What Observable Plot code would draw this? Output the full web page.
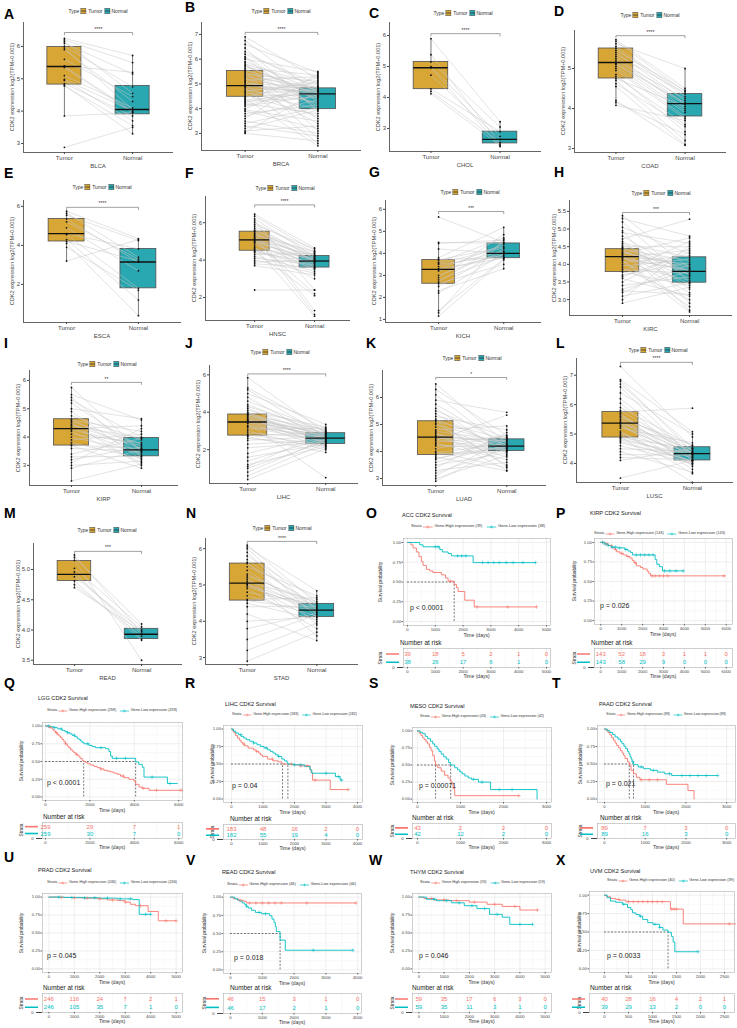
<!DOCTYPE html>
<html><head><meta charset="utf-8">
<script src="https://cdn.jsdelivr.net/npm/d3@7"></script>
<script src="https://cdn.jsdelivr.net/npm/@observablehq/plot@0.6"></script>
<style>
body{margin:0;background:#fff;}
#root{position:relative;width:737px;height:1028px;overflow:hidden;font-family:"Liberation Sans",Arial,Helvetica,sans-serif;background:#fff;}
.t{position:absolute;white-space:nowrap;line-height:1;}
</style></head><body><div id="root"></div>
<script>
// ---------------- DATA: paired boxplots (tumor / normal values, box stats [lo,q1,med,q3,hi]) ----------------
const BLCA_tumor = [6.25,6.2,6.15,6.1,6.0,5.95,5.9,5.6,5.4,5.38,5.35,5.1,4.98,4.95,4.85,4.8,4.78,3.85,2.88];
const BLCA_normal = [5.72,5.5,4.55,5.15,4.75,4.05,4.3,4.45,5.2,4.0,3.95,4.1,4.0,3.7,3.85,3.3,3.55,3.95,3.5];
const BLCA_box = {tumor:[3.85,4.82,5.38,5.98,6.25], normal:[3.3,3.9,4.05,4.78,5.72]};

const BRCA_tumor = [6.9,6.75,6.6,6.45,6.3,6.2,6.1,6.0,5.9,5.85,5.8,5.72,5.65,5.6,5.55,5.5,5.45,5.4,5.35,5.3,5.25,5.2,5.15,5.1,5.05,5.0,4.95,4.92,4.9,4.85,4.8,4.75,4.7,4.65,4.6,4.55,4.5,4.45,4.4,4.3,4.2,4.1,4.0,3.9,3.8,3.7,3.6,3.5,3.4,3.3,3.2,3.1,3.05,3.0,4.25,4.35,5.75,6.05,4.15,3.95];
const BRCA_normal = [5.2,4.6,5.45,3.9,4.8,5.0,4.3,5.5,4.7,3.1,4.95,4.55,5.35,4.1,4.75,2.8,4.62,5.1,4.4,4.85,3.6,4.68,5.3,4.2,4.5,4.9,3.4,4.65,4.82,2.6,4.72,4.25,5.05,4.0,4.78,3.7,4.58,5.25,2.5,4.45,3.8,4.52,5.15,3.2,4.15,4.35,5.4,3.0,4.05,2.9,3.95,3.3,4.7,2.7,4.88,4.64,4.48,3.98,4.76,3.5];
const BRCA_box = {tumor:[3.0,4.48,4.93,5.52,6.9], normal:[2.5,3.98,4.6,4.82,5.5]};

const CHOL_tumor = [5.9,5.38,5.15,5.0,4.96,4.72,4.28,4.2,4.12];
const CHOL_normal = [3.22,2.5,3.05,2.75,2.42,2.65,2.9,2.55,2.45];
const CHOL_box = {tumor:[4.1,4.27,4.96,5.15,5.9], normal:[2.4,2.52,2.65,2.9,3.22]};

const COAD_tumor = [5.72,5.68,5.62,5.55,5.5,5.45,5.4,5.35,5.3,5.25,5.2,5.15,5.12,5.1,5.05,5.0,4.95,4.85,4.8,4.75,4.7,4.62,4.55,4.2,4.15,4.08];
const COAD_normal = [4.5,4.42,5.0,4.36,4.3,4.45,4.2,4.38,4.12,4.0,4.25,4.1,3.95,4.15,3.9,3.8,3.75,3.42,3.6,4.05,3.2,3.55,3.1,3.08,3.35,3.7];
const COAD_box = {tumor:[4.08,4.75,5.15,5.5,5.72], normal:[3.08,3.8,4.12,4.36,5.0]};

const ESCA_tumor = [5.75,5.65,5.55,5.35,5.2,4.9,4.6,4.55,4.3,4.2,4.1,3.9,3.2];
const ESCA_normal = [4.35,3.4,4.25,3.15,3.3,2.7,3.82,1.8,1.2,3.2,0.4,1.7,4.3];
const ESCA_box = {tumor:[3.2,4.2,4.6,5.35,5.75], normal:[0.4,1.8,3.15,3.82,4.35]};

const HNSC_tumor = [6.45,6.35,6.2,6.1,6.0,5.9,5.8,5.7,5.6,5.55,5.52,5.45,5.4,5.3,5.25,5.2,5.15,5.1,5.08,5.05,5.0,4.95,4.9,4.8,4.7,4.6,4.55,4.5,4.45,4.4,4.3,4.2,4.1,4.0,3.9,3.8,3.7,2.4,5.35,4.65];
const HNSC_normal = [4.65,4.5,4.2,2.4,4.4,4.6,4.1,3.9,4.3,1.3,4.22,4.0,3.95,1.1,4.15,3.85,3.6,4.25,3.7,2.2,3.95,4.05,3.5,3.8,1.0,4.1,3.65,3.55,2.1,3.9,4.35,3.4,3.75,3.3,4.0,3.6,3.2,2.4,4.45,3.0];
const HNSC_box = {tumor:[3.7,4.5,5.08,5.52,6.45], normal:[3.0,3.6,3.95,4.22,4.65]};

const KICH_tumor = [5.65,4.5,4.45,4.2,3.8,3.72,3.7,3.6,3.5,3.4,3.3,3.27,3.2,3.0,2.9,2.8,2.7,2.62,2.5,2.3,2.2,1.4,1.3,1.15,3.55];
const KICH_normal = [4.5,4.45,4.6,4.0,5.18,3.8,4.3,4.7,3.9,4.1,3.78,4.4,3.95,4.05,4.85,3.85,4.5,3.5,4.2,3.3,4.0,3.75,4.65,3.7,4.25];
const KICH_box = {tumor:[1.15,2.62,3.27,3.7,4.5], normal:[3.3,3.78,4.0,4.45,5.18]};

const KIRC_tumor = [5.38,5.3,5.2,5.05,4.95,4.9,4.8,4.72,4.65,4.6,4.55,4.5,4.45,4.43,4.4,4.35,4.3,4.27,4.25,4.22,4.2,4.15,4.1,4.05,4.0,3.95,3.9,3.85,3.8,3.78,3.7,3.6,3.5,3.4,3.3,3.2,3.1,3.0,2.9,4.12,4.33,3.65,4.48,3.25,4.18];
const KIRC_normal = [3.9,4.8,3.5,4.3,2.9,4.6,3.7,5.28,3.3,4.2,3.8,4.5,2.7,4.1,3.6,3.95,4.75,3.45,4.0,3.2,4.4,3.85,2.65,4.25,3.55,4.15,3.0,3.75,4.65,3.4,4.05,3.1,4.45,3.65,3.8,4.0,3.48,4.55,3.35,2.8,3.9,4.35,3.7,3.15,3.82];
const KIRC_box = {tumor:[2.9,3.78,4.22,4.43,5.38], normal:[2.65,3.48,3.8,4.2,4.8]};

const KIRP_tumor = [5.75,5.5,5.4,5.3,5.2,5.0,4.9,4.75,4.63,4.6,4.5,4.45,4.4,4.35,4.3,4.25,4.2,4.1,4.0,3.9,3.8,3.72,3.7,3.6,3.4,3.3,3.2,3.1,3.0,2.9,2.45,4.55];
const KIRP_normal = [3.5,4.6,3.3,4.0,3.55,4.65,3.2,3.9,3.4,4.2,3.0,3.6,3.97,3.35,4.4,3.7,3.1,3.8,3.45,4.1,3.25,3.6,2.9,3.5,3.95,3.32,3.65,4.3,3.15,3.55,3.05,3.75];
const KIRP_box = {tumor:[2.45,3.7,4.3,4.63,5.75], normal:[2.9,3.32,3.55,3.97,4.65]};

const LIHC_tumor = [5.85,5.3,5.2,5.0,4.8,4.6,4.4,4.2,4.1,4.0,3.95,3.9,3.88,3.85,3.8,3.7,3.65,3.6,3.55,3.5,3.48,3.45,3.4,3.3,3.2,3.1,3.0,2.9,2.8,2.75,2.7,2.5,2.3,2.1,1.8,1.6,1.4,1.2,1.1,1.0,0.8,0.6,0.4,3.75,3.25,2.6,4.3,3.58];
const LIHC_normal = [2.9,3.1,2.7,3.35,2.5,3.0,2.8,2.62,3.2,2.3,2.88,2.4,2.7,3.05,2.55,2.2,2.85,2.6,2.95,2.35,2.75,2.1,0.5,2.65,2.45,3.15,2.0,2.58,2.25,2.9,1.85,2.7,2.5,2.4,2.8,2.3,2.6,2.15,2.95,2.45,2.55,2.35,2.05,2.78,2.62,2.2,3.0,2.68];
const LIHC_box = {tumor:[0.4,2.75,3.48,3.88,5.85], normal:[1.85,2.3,2.62,2.88,3.35]};

const LUAD_tumor = [6.5,6.3,6.1,5.9,5.75,5.6,5.5,5.4,5.3,5.2,5.12,5.05,5.0,4.9,4.8,4.7,4.65,4.6,4.55,4.53,4.5,4.45,4.4,4.3,4.2,4.1,4.0,3.95,3.9,3.87,3.8,3.7,3.6,3.5,3.4,3.3,3.2,3.1,3.0,2.9,4.25,4.75,5.15,3.75,4.35];
const LUAD_normal = [4.3,4.6,4.1,5.45,4.2,3.9,4.5,4.0,4.8,4.15,4.45,3.5,4.25,4.05,4.95,3.3,4.2,4.35,3.8,4.1,4.4,4.02,5.35,3.7,4.2,4.6,3.4,4.3,4.0,4.15,3.28,4.5,4.25,3.95,4.7,3.6,4.1,4.45,3.85,4.22,4.05,4.38,3.45,4.18,4.55];
const LUAD_box = {tumor:[2.9,3.87,4.53,5.12,6.5], normal:[3.28,4.02,4.2,4.45,4.95]};

const LUSC_tumor = [7.3,6.85,6.8,6.7,6.6,6.4,6.2,6.05,5.9,5.8,5.75,5.7,5.6,5.5,5.45,5.4,5.37,5.35,5.3,5.2,5.1,5.0,4.95,4.9,4.88,4.85,4.8,4.7,4.6,4.5,4.4,4.3,4.2,4.1,3.5,5.55,5.25,5.65,4.75,5.05];
const LUSC_normal = [4.9,5.08,4.4,4.55,4.2,5.0,4.3,4.1,4.6,4.35,5.88,3.9,4.5,4.25,4.0,4.45,4.33,3.8,4.15,4.7,3.65,4.38,4.05,3.35,4.5,4.2,4.3,4.1,4.0,4.4,3.7,4.28,4.12,4.5,4.1,4.62,4.22,4.36,4.08,3.95];
const LUSC_box = {tumor:[4.1,4.88,5.37,5.75,6.85], normal:[3.65,4.1,4.33,4.55,5.08]};

const READ_tumor = [5.24,5.2,5.15,5.02,4.96,4.92,4.88,4.81,4.75,4.7];
const READ_normal = [3.95,4.1,3.5,4.05,3.85,3.93,4.0,3.83,3.9,3.98];
const READ_box = {tumor:[4.7,4.81,4.92,5.14,5.25], normal:[3.82,3.85,3.93,4.02,4.1]};

const STAD_tumor = [6.1,6.05,6.0,5.9,5.8,5.7,5.62,5.59,5.5,5.4,5.3,5.2,5.15,5.1,5.05,5.02,5.0,4.95,4.9,4.8,4.7,4.6,4.57,4.5,4.4,4.2,4.0,3.8,3.5,3.2,2.9,5.25];
const STAD_normal = [4.5,4.84,4.3,4.1,4.6,4.35,3.9,4.45,4.7,4.2,4.4,3.6,4.28,4.55,4.0,4.38,4.25,4.33,3.8,4.48,4.15,4.65,4.3,4.05,4.42,3.47,4.12,4.22,4.18,3.95,3.7,4.5];
const STAD_box = {tumor:[2.9,4.57,5.05,5.59,6.1], normal:[3.47,4.12,4.31,4.48,4.84]};

// ---------------- DATA: Kaplan-Meier curves [time, survival] ----------------
const ACC_high = [[0,1],[120,0.97],[200,0.93],[320,0.88],[410,0.82],[500,0.76],[560,0.71],[680,0.66],[800,0.64],[920,0.62],[1220,0.59],[1370,0.55],[1460,0.51],[1680,0.47],[1760,0.43],[1820,0.38],[2060,0.27],[2400,0.185],[4640,0.185]];
const ACC_low = [[0,1],[440,0.97],[560,0.945],[1160,0.91],[1250,0.88],[1460,0.86],[1580,0.83],[2360,0.745],[4600,0.745]];
const ACC_cens_high = [1550,2500,3600,4640];
const ACC_cens_low = [1000,1100,1800,1950,2100,2700,2900,3100,3300,3550,3800,4150,4600];
const ACC_risk_high = [39,18,5,2,1,0], ACC_risk_low = [38,26,17,6,1,0];

const KIRP_high = [[0,1],[200,0.98],[360,0.96],[520,0.93],[680,0.91],[760,0.88],[910,0.86],[1070,0.84],[1230,0.82],[1390,0.8],[1500,0.77],[1590,0.74],[1700,0.7],[1900,0.68],[2020,0.66],[2220,0.63],[2300,0.6],[2380,0.572],[5950,0.572]];
const KIRP_low = [[0,1],[200,0.98],[350,0.96],[500,0.94],[800,0.93],[1150,0.91],[1300,0.89],[1420,0.87],[1520,0.84],[2600,0.78],[2680,0.72],[2800,0.69],[2950,0.636],[3950,0.636]];
const KIRP_cens_high = [100,300,500,700,1000,1300,1650,2450,2600,2800,3000,3200,5900];
const KIRP_cens_low = [80,200,350,550,700,900,1200,1700,1900,2100,2300,2500,3050,3300,3600,3950];
const KIRP_risk_high = [143,52,18,3,1,1,0], KIRP_risk_low = [143,58,29,9,0,0,0];

const LGG_high = [[0,1],[120,0.985],[225,0.977],[300,0.955],[375,0.93],[450,0.905],[526,0.883],[600,0.86],[677,0.836],[750,0.81],[827,0.78],[900,0.75],[977,0.718],[1050,0.695],[1128,0.67],[1200,0.645],[1278,0.624],[1370,0.6],[1459,0.577],[1550,0.545],[1654,0.516],[1720,0.5],[1805,0.484],[1900,0.468],[2030,0.45],[2180,0.43],[2331,0.413],[2480,0.395],[2632,0.376],[2780,0.364],[2932,0.352],[3080,0.335],[3233,0.319],[3380,0.295],[3534,0.272],[3759,0.249],[3985,0.225],[4060,0.178],[4210,0.14],[4361,0.122],[4662,0.094],[6165,0.094]];
const LGG_low = [[0,1],[200,0.99],[375,0.977],[550,0.96],[750,0.94],[870,0.925],[977,0.906],[1100,0.89],[1200,0.87],[1320,0.85],[1430,0.826],[1500,0.81],[1580,0.79],[1650,0.77],[1730,0.75],[1955,0.728],[2100,0.71],[2255,0.695],[2706,0.68],[2857,0.64],[2932,0.577],[3008,0.545],[4060,0.493],[4200,0.46],[4360,0.42],[4436,0.28],[5489,0.19],[5940,0.19]];
const LGG_cens_high = [200,500,900,1400,2500,3500,4400,5000,6100];
const LGG_cens_low = [150,400,700,1000,1300,1900,2500,3200,3600,4800,5600];
const LGG_risk_high = [259,29,7,1], LGG_risk_low = [259,30,7,0];

const LIHC_high = [[0,1],[40,0.97],[79,0.943],[130,0.905],[191,0.871],[250,0.84],[303,0.81],[360,0.785],[416,0.76],[528,0.727],[697,0.703],[780,0.68],[865,0.656],[920,0.63],[978,0.608],[1146,0.57],[1315,0.545],[1483,0.531],[1596,0.512],[1620,0.498],[1933,0.488],[2157,0.474],[2494,0.42],[2528,0.378],[2573,0.27],[3135,0.135],[3730,0.135]];
const LIHC_low = [[0,1],[60,0.97],[135,0.943],[220,0.92],[303,0.895],[390,0.87],[472,0.847],[580,0.825],[697,0.8],[810,0.775],[921,0.751],[1030,0.73],[1146,0.703],[1230,0.68],[1315,0.656],[1400,0.63],[1483,0.608],[1596,0.57],[1680,0.545],[1764,0.522],[1790,0.498],[1989,0.488],[2326,0.464],[2494,0.416],[2550,0.368],[3300,0.32],[3450,0.27],[3500,0.27]];
const LIHC_cens_high = [400,800,1300,1900,2200,2400,2650,3700];
const LIHC_cens_low = [300,700,1100,1500,2000,2200,3000,3400,3500];
const LIHC_risk_high = [183,48,16,2,0], LIHC_risk_low = [182,55,19,4,0];

const MESO_high = [[0,1],[40,0.967],[79,0.935],[120,0.9],[157,0.87],[200,0.84],[236,0.81],[276,0.76],[315,0.71],[354,0.637],[394,0.56],[420,0.5],[472,0.46],[551,0.41],[630,0.35],[709,0.31],[760,0.27],[787,0.24],[827,0.154],[866,0.05],[2360,0.05]];
const MESO_low = [[0,1],[60,0.98],[118,0.96],[180,0.92],[236,0.886],[300,0.85],[354,0.81],[400,0.775],[457,0.736],[500,0.7],[551,0.66],[610,0.62],[669,0.587],[724,0.537],[772,0.5],[866,0.46],[930,0.43],[984,0.398],[1040,0.37],[1102,0.338],[1180,0.31],[1260,0.289],[1417,0.249],[1700,0.14],[2780,0.0]];
const MESO_cens_high = [2360];
const MESO_cens_low = [1300,1500,1900,2200];
const MESO_risk_high = [43,2,2,0], MESO_risk_low = [42,12,2,0];

const PAAD_high = [[0,1],[45,0.975],[87,0.95],[130,0.915],[174,0.877],[220,0.84],[261,0.8],[300,0.765],[348,0.73],[390,0.69],[435,0.655],[470,0.62],[504,0.58],[565,0.53],[609,0.483],[652,0.41],[713,0.36],[783,0.31],[870,0.275],[1520,0.21],[2050,0.12],[2200,0.0]];
const PAAD_low = [[0,1],[65,0.975],[130,0.95],[200,0.92],[261,0.887],[330,0.855],[391,0.82],[430,0.79],[478,0.754],[520,0.72],[565,0.68],[600,0.645],[626,0.606],[655,0.57],[678,0.53],[713,0.49],[826,0.458],[957,0.433],[1130,0.41],[1304,0.384],[1478,0.36],[1652,0.335],[2780,0.335]];
const PAAD_cens_high = [900,1100,1300];
const PAAD_cens_low = [700,900,1200,1600,1900,2100,2300,2500,2780];
const PAAD_risk_high = [89,7,3,0], PAAD_risk_low = [89,16,3,0];

const PRAD_high = [[0,1],[400,0.995],[900,0.99],[1400,0.985],[1900,0.975],[2300,0.96],[2700,0.95],[3000,0.93],[3200,0.9],[3400,0.88],[3900,0.8],[4300,0.67],[5000,0.67]];
const PRAD_low = [[0,1],[600,0.995],[1300,0.99],[2000,0.985],[2700,0.975],[3300,0.965],[3550,0.76],[4000,0.76]];
const PRAD_cens_high = [500,1000,1500,2000,2500,3000,3600,4600,5000];
const PRAD_cens_low = [400,900,1400,1800,2300,2800,3200,3800,4000];
const PRAD_risk_high = [246,116,24,7,2,1], PRAD_risk_low = [246,105,35,7,1,0];

const READ_high = [[0,1],[84,0.977],[240,0.958],[397,0.944],[501,0.92],[3950,0.92]];
const READ_low = [[0,1],[136,0.977],[220,0.96],[292,0.944],[370,0.92],[449,0.898],[500,0.875],[553,0.851],[658,0.819],[783,0.79],[971,0.772],[1232,0.744],[1305,0.698],[1368,0.651],[1410,0.595],[1441,0.526],[1560,0.409],[1723,0.27],[3850,0.27]];
const READ_cens_high = [300,600,800,1000,1200,1400,1600,2400,3950];
const READ_cens_low = [500,900,1100,2600,3850];
const READ_risk_high = [46,15,3,1,0], READ_risk_low = [46,17,2,1,0];

const THYM_high = [[0,1],[200,0.98],[600,0.96],[1200,0.95],[2000,0.93],[2700,0.9],[3300,0.87],[4000,0.82],[4700,0.82]];
const THYM_low = [[0,1],[300,0.97],[700,0.95],[1300,0.92],[1800,0.88],[2300,0.84],[2800,0.76],[3300,0.72],[3600,0.62],[4500,0.62]];
const THYM_cens_high = [500,1000,1500,2200,3000,3800,4700];
const THYM_cens_low = [600,1100,1600,2100,2600,3100,4000,4500];
const THYM_risk_high = [59,35,17,6,3,0], THYM_risk_low = [59,35,11,3,1,0];

const UVM_high = [[0,1],[42,0.978],[127,0.956],[232,0.943],[303,0.934],[444,0.912],[1373,0.811],[1641,0.61],[2730,0.61]];
const UVM_low = [[0,1],[56,0.965],[127,0.92],[232,0.904],[373,0.877],[479,0.833],[549,0.803],[585,0.76],[655,0.737],[725,0.715],[796,0.67],[901,0.627],[1007,0.605],[1148,0.561],[1218,0.526],[1324,0.496],[1394,0.44],[1430,0.364],[1465,0.232],[1950,0.232]];
const UVM_cens_high = [300,500,600,700,800,900,1000,1100,1200,1400,1450,1500,2600];
const UVM_cens_low = [400,750,1050,1150,1950];
const UVM_risk_high = [40,28,16,4,2,1], UVM_risk_low = [39,29,13,2,0,0];

// ---------------- STYLE / LAYOUT ----------------
const FONT = '"Liberation Sans", Arial, Helvetica, sans-serif';
const GOLD = "#D8A635", TEAL = "#2AA8B1", RED = "#F8766D", CYAN = "#00BFC4";
const root = document.getElementById("root");

function txt(s, x, y, o = {}) {
  const d = document.createElement("div");
  d.className = "t";
  d.textContent = s;
  d.style.fontSize = (o.size || 6) + "px";
  if (o.weight) d.style.fontWeight = o.weight;
  d.style.color = o.color || "#333";
  const tx = o.anchor === "middle" ? "-50%" : o.anchor === "end" ? "-100%" : "0";
  d.style.left = x + "px"; d.style.top = y + "px";
  d.style.transform = `translate(${tx},-50%)` + (o.rotate ? ` rotate(${o.rotate}deg)` : "");
  root.appendChild(d);
  return d;
}
function html(h, x, y, anchor, fitW) {
  const d = document.createElement("div");
  d.style.cssText = `position:absolute;left:${x}px;top:${y}px;display:flex;align-items:center;white-space:nowrap;line-height:1;color:#333;`;
  d.innerHTML = h;
  root.appendChild(d);
  let k = 1;
  if (fitW) { const w = d.getBoundingClientRect().width; if (w > 0) k = fitW / w; }
  d.style.transformOrigin = anchor === "middle" ? "50% 50%" : "0 50%";
  d.style.transform = `translate(${anchor === "middle" ? "-50%" : "0"},-50%)` + (k !== 1 ? ` scale(${k})` : "");
  return d;
}
function put(el, x, y) {
  el.style.position = "absolute"; el.style.left = x + "px"; el.style.top = y + "px";
  root.appendChild(el);
}
function letter(s, x, y) { txt(s, x, y, {size: 14, weight: "bold", color: "#000"}); }

function swatch(c) {
  return `<svg width="6" height="6" style="display:block;margin:0 1.5px"><rect x="0.3" y="0.3" width="5.4" height="5.4" fill="${c}" stroke="#555" stroke-width="0.6"/><line x1="0.3" x2="5.7" y1="3" y2="3" stroke="#222" stroke-width="0.7"/></svg>`;
}
function lineSw(c) {
  return `<svg width="11" height="5" style="display:block;margin:0 1.5px"><line x1="0" x2="11" y1="2.5" y2="2.5" stroke="${c}" stroke-width="0.8"/><line x1="5.5" x2="5.5" y1="0.8" y2="4.2" stroke="${c}" stroke-width="0.6"/><line x1="3.8" x2="7.2" y1="2.5" y2="2.5" stroke="${c}" stroke-width="0.6"/></svg>`;
}

const sty = {fontFamily: FONT, fontSize: "6px", color: "#444", background: "transparent", overflow: "visible"};

// ---------------- paired boxplot panel ----------------
function boxPanel(g, tumor, normal, box, name, sig) {
  const ml = 16, mr = 3, mt = 10, mb = 12;
  const xdom = g.xdom || [0.4, 2.6];
  const pairs = tumor.map((t, i) => ({t, n: normal[i]})).filter(d => d.n !== undefined);
  const pts = [...tumor.map(v => ({x: 1, y: v})), ...normal.map(v => ({x: 2, y: v}))];
  const st = [
    {x: 1, lo: box.tumor[0], q1: box.tumor[1], med: box.tumor[2], q3: box.tumor[3], hi: box.tumor[4]},
    {x: 2, lo: box.normal[0], q1: box.normal[1], med: box.normal[2], q3: box.normal[3], hi: box.normal[4]}
  ];
  const span = g.ydom[1] - g.ydom[0];
  const tip = span * 0.018;
  const br = [{x: 1, y: g.sigY - tip}, {x: 1, y: g.sigY}, {x: 2, y: g.sigY}, {x: 2, y: g.sigY - tip}];
  const fmt = g.fmt ? d3.format(g.fmt) : d3.format("d");
  const svg = Plot.plot({
    width: g.R - g.L + ml + mr, height: g.B - g.T + mt + mb,
    marginLeft: ml, marginRight: mr, marginTop: mt, marginBottom: mb,
    style: sty,
    x: {domain: xdom}, y: {domain: g.ydom},
    marks: [
      Plot.ruleX(st, {x: "x", y1: "lo", y2: "hi", stroke: "#222", strokeWidth: 0.6}),
      Plot.rect([st[0]], {x1: d => d.x - 0.25, x2: d => d.x + 0.25, y1: "q1", y2: "q3", fill: GOLD, stroke: "#505050", strokeWidth: 0.8}),
      Plot.rect([st[1]], {x1: d => d.x - 0.25, x2: d => d.x + 0.25, y1: "q1", y2: "q3", fill: TEAL, stroke: "#505050", strokeWidth: 0.8}),
      Plot.link(pairs, {x1: () => 1, x2: () => 2, y1: "t", y2: "n", stroke: "#c8c8c8", strokeWidth: 0.6, strokeOpacity: 0.85}),
      Plot.ruleY(st, {x1: d => d.x - 0.25, x2: d => d.x + 0.25, y: "med", stroke: "#111", strokeWidth: 1.3}),
      Plot.dot(pts, {x: "x", y: "y", r: 0.9, fill: "#111", stroke: null}),
      Plot.line(br, {x: "x", y: "y", stroke: "#444", strokeWidth: 0.5}),
      Plot.text([sig], {x: () => 1.5, y: () => g.sigY, text: d => d, dy: -3.5, fontSize: 5, fill: "#333"}),
      Plot.ruleX([xdom[0]], {stroke: "#222", strokeWidth: 0.7}),
      Plot.ruleY([g.ydom[0]], {stroke: "#222", strokeWidth: 0.7}),
      Plot.axisY(g.yticks, {tickSize: 2, tickPadding: 1.5, tickFormat: fmt, label: null, fontSize: 6}),
      Plot.axisX([1, 2], {tickSize: 2, tickPadding: 1.5, tickFormat: d => d === 1 ? "Tumor" : "Normal", label: null, fontSize: 6})
    ]
  });
  put(svg, g.L - ml, g.T - mt);
  txt(name, (g.L + g.R) / 2, g.B + 13.5, {size: 6, anchor: "middle", color: "#444"});
  txt("CDK2 expression log2(TPM+0.001)", g.L - (g.fmt ? 14.5 : 10.5), (g.T + g.B) / 2, {size: 5.6, anchor: "middle", rotate: -90, color: "#444"});
  html(`<span style="font-size:5px">Type</span>${swatch(GOLD)}<span style="font-size:5px">Tumor</span>${swatch(TEAL)}<span style="font-size:5px">Normal</span>`, g.lx, g.ly, "middle");
}

// ---------------- survival panel ----------------
function survAt(curve, t) { let s = 1; for (const [ti, si] of curve) { if (ti <= t) s = si; else break; } return s; }

function survPanel(g, d) {
  const ml = 20, mr = 3, mt = 3, mb = 8;
  const xt = d.ticks;
  const minorX = xt.slice(1).map((v, i) => (v + xt[i]) / 2);
  const yt = [0, 0.25, 0.5, 0.75, 1], minorY = [0.125, 0.375, 0.625, 0.875];
  const cH = d.censH.map(t => ({t, s: survAt(d.high, t)}));
  const cL = d.censL.map(t => ({t, s: survAt(d.low, t)}));
  const medMax = d.medians.length ? d3.max(d.medians) : 0;
  const xf = d3.format("d");
  const base = {width: g.fw + ml + mr, marginLeft: ml, marginRight: mr, marginTop: mt, marginBottom: mb, style: {...sty, fontSize: "4.2px"}, x: {domain: g.xdom}};
  const gridMarks = [
    Plot.gridX(minorX, {stroke: "#f2f2f2", strokeOpacity: 1, strokeWidth: 0.5}),
    Plot.gridX(xt, {stroke: "#e4e4e4", strokeOpacity: 1, strokeWidth: 0.6})
  ];
  const medMarks = d.medians.length ? [
    Plot.ruleY([0.5], {x1: () => 0, x2: () => medMax, stroke: "#222", strokeWidth: 0.6, strokeDasharray: "2,1.5"}),
    Plot.ruleX(d.medians, {y1: () => 0, y2: () => 0.5, stroke: "#222", strokeWidth: 0.6, strokeDasharray: "2,1.5"})
  ] : [];
  const main = Plot.plot({
    ...base, height: g.fh + mt + mb, y: {domain: [-0.05, 1.05]},
    marks: [
      ...gridMarks,
      Plot.gridY(minorY, {stroke: "#f2f2f2", strokeOpacity: 1, strokeWidth: 0.5}),
      Plot.gridY(yt, {stroke: "#e4e4e4", strokeOpacity: 1, strokeWidth: 0.6}),
      Plot.frame({stroke: "#b0b0b0", strokeWidth: 0.6}),
      ...medMarks,
      Plot.line(d.high, {x: p => p[0], y: p => p[1], curve: "step-after", stroke: RED, strokeWidth: 0.9}),
      Plot.line(d.low, {x: p => p[0], y: p => p[1], curve: "step-after", stroke: CYAN, strokeWidth: 0.9}),
      Plot.dot(cH, {x: "t", y: "s", symbol: "plus", r: 1.3, stroke: RED, strokeWidth: 0.5}),
      Plot.dot(cL, {x: "t", y: "s", symbol: "plus", r: 1.3, stroke: CYAN, strokeWidth: 0.5}),
      Plot.axisX(xt, {tickSize: 1.5, tickPadding: 1, label: null, fontSize: 4.2, stroke: "#666", tickFormat: xf}),
      Plot.axisY(yt, {tickSize: 1.5, tickPadding: 1, label: null, fontSize: 4.2, tickFormat: d3.format(".2f"), stroke: "#666"})
    ]
  });
  put(main, g.fx - ml, g.fy - mt);
  const tab = Plot.plot({
    ...base, height: g.th + mt + mb, y: {domain: [0, 1]},
    marks: [
      ...gridMarks,
      Plot.frame({stroke: "#b0b0b0", strokeWidth: 0.6}),
      Plot.text(d.riskH, {x: (v, i) => xt[i], y: () => 0.71, text: v => String(v), fill: RED, fontSize: 6}),
      Plot.text(d.riskL, {x: (v, i) => xt[i], y: () => 0.28, text: v => String(v), fill: CYAN, fontSize: 6}),
      Plot.axisX(xt, {tickSize: 1.5, tickPadding: 1, label: null, fontSize: 4.2, stroke: "#666", tickFormat: xf})
    ]
  });
  put(tab, g.fx - ml, g.ty - mt);
  const cx = g.fx + g.fw / 2;
  txt(d.title, g.tx, g.tty, {size: 5.6, color: "#222"});
  html(`<span style="font-size:4.4px">Strata</span>${lineSw(RED)}<span style="font-size:4.4px">Gene-High expression (${d.nH})</span><span style="width:3px"></span>${lineSw(CYAN)}<span style="font-size:4.4px">Gene-Low expression (${d.nL})</span>`, g.lx, g.ly, "start", g.lw);
  txt("Survival probability", g.ylabX, g.fy + g.fh / 2, {size: 4.8, anchor: "middle", rotate: -90, color: "#333"});
  txt("Time (days)", cx, g.fy + g.fh + 9.5, {size: 5, anchor: "middle", color: "#333"});
  txt(d.p, g.px, g.py, {size: 7, color: "#222"});
  txt("Number at risk", g.nx, g.ty - 5, {size: 6.4, color: "#222"});
  txt("Time (days)", cx, g.ty + g.th + 8.5, {size: 5, anchor: "middle", color: "#333"});
  txt("Strata", g.ylabX, g.ty + g.th / 2, {size: 4.8, anchor: "middle", rotate: -90, color: "#333"});
  html(`<svg width="13" height="${g.th}" style="display:block"><line x1="0" x2="13" y1="${g.th * 0.29}" y2="${g.th * 0.29}" stroke="${RED}" stroke-width="1.6"/><line x1="0" x2="13" y1="${g.th * 0.72}" y2="${g.th * 0.72}" stroke="${CYAN}" stroke-width="1.6"/></svg>`, g.fx - 17, g.ty + g.th / 2);
}

// ---------------- build boxplot panels ----------------
boxPanel({L: 23, B: 152, R: 173, T: 22, ydom: [2.72, 6.74], yticks: [3, 4, 5, 6], sigY: 6.43, lx: 98, ly: 11}, BLCA_tumor, BLCA_normal, BLCA_box, "BLCA", "****");
boxPanel({L: 201, B: 150, R: 361, T: 22, ydom: [2.31, 7.48], yticks: [3, 4, 5, 6, 7], sigY: 7.08, lx: 281, ly: 11}, BRCA_tumor, BRCA_normal, BRCA_box, "BRCA", "****");
boxPanel({L: 389, B: 151, R: 541, T: 22, ydom: [2.26, 6.42], yticks: [3, 4, 5, 6], sigY: 6.06, lx: 463, ly: 13}, CHOL_tumor, CHOL_normal, CHOL_box, "CHOL", "****");
boxPanel({L: 574, B: 152, R: 726, T: 30, ydom: [2.9, 5.95], yticks: [3, 4, 5], sigY: 5.82, lx: 650, ly: 15}, COAD_tumor, COAD_normal, COAD_box, "COAD", "****");
boxPanel({L: 23, B: 322, R: 181, T: 200, ydom: [0.05, 6.3], yticks: [2, 4, 6], sigY: 5.95, lx: 102, ly: 187}, ESCA_tumor, ESCA_normal, ESCA_box, "ESCA", "****");
boxPanel({L: 205, B: 320, R: 350, T: 196, ydom: [0.77, 7.4], yticks: [2, 4, 6], xdom: [0.18, 2.6], sigY: 6.95, lx: 285, ly: 188}, HNSC_tumor, HNSC_normal, HNSC_box, "HNSC", "****");
boxPanel({L: 385, B: 322, R: 541, T: 200, ydom: [0.86, 6.4], yticks: [1, 2, 3, 4, 5, 6], xdom: [0.185, 2.58], sigY: 5.9, lx: 470, ly: 192}, KICH_tumor, KICH_normal, KICH_box, "KICH", "***");
boxPanel({L: 569, B: 315, R: 732, T: 200, ydom: [2.55, 5.81], yticks: [3, 3.5, 4, 4.5, 5, 5.5], fmt: ".1f", xdom: [0.21, 2.64], sigY: 5.47, lx: 661, ly: 193}, KIRC_tumor, KIRC_normal, KIRC_box, "KIRC", "***");
boxPanel({L: 29, B: 485, R: 178, T: 370, ydom: [2.29, 6.35], yticks: [3, 4, 5, 6], xdom: [0.4, 2.53], sigY: 5.93, lx: 107, ly: 364}, KIRP_tumor, KIRP_normal, KIRP_box, "KIRP", "**");
boxPanel({L: 209, B: 483, R: 358, T: 365, ydom: [0.19, 6.5], yticks: [2, 4, 6], xdom: [0.51, 2.42], sigY: 6.05, lx: 280, ly: 352}, LIHC_tumor, LIHC_normal, LIHC_box, "LIHC", "****");
boxPanel({L: 382, B: 485, R: 546, T: 370, ydom: [2.74, 7.0], yticks: [3, 4, 5, 6], xdom: [0.25, 2.56], sigY: 6.74, lx: 472, ly: 358}, LUAD_tumor, LUAD_normal, LUAD_box, "LUAD", "*");
boxPanel({L: 576, B: 482, R: 733, T: 358, ydom: [3.35, 7.57], yticks: [4, 5, 6, 7], xdom: [0.39, 2.57], sigY: 7.44, lx: 658, ly: 350}, LUSC_tumor, LUSC_normal, LUSC_box, "LUSC", "****");
boxPanel({L: 33, B: 664, R: 182, T: 543, ydom: [3.43, 5.43], yticks: [3.5, 4, 4.5, 5], fmt: ".1f", xdom: [0.39, 2.61], sigY: 5.3, lx: 107, ly: 530}, READ_tumor, READ_normal, READ_box, "READ", "***");
boxPanel({L: 205, B: 664, R: 358, T: 538, ydom: [2.81, 6.28], yticks: [3, 4, 5, 6], sigY: 6.2, lx: 282, ly: 528}, STAD_tumor, STAD_normal, STAD_box, "STAD", "****");

// ---------------- build survival panels ----------------
const T6 = [0, 1000, 2000, 3000, 4000, 5000];
survPanel({fx: 403, fy: 538, fw: 147, fh: 87, xdom: [-144, 5144], tx: 402, tty: 516, lx: 411, ly: 527, lw: 134, px: 410, py: 607, nx: 400, ty: 648, th: 19, ylabX: 381},
  {title: "ACC CDK2 Survival", ticks: T6, high: ACC_high, low: ACC_low, censH: ACC_cens_high, censL: ACC_cens_low, medians: [1680], riskH: ACC_risk_high, riskL: ACC_risk_low, nH: 39, nL: 38, p: "p < 0.0001"});
survPanel({fx: 594, fy: 538, fw: 138, fh: 86, xdom: [-300, 6300], tx: 590, tty: 514, lx: 594, ly: 534, lw: 131, px: 600, py: 605, nx: 591, ty: 648, th: 19, ylabX: 575},
  {title: "KIRP CDK2 Survival", ticks: [0, 1000, 2000, 3000, 4000, 5000, 6000], high: KIRP_high, low: KIRP_low, censH: KIRP_cens_high, censL: KIRP_cens_low, medians: [], riskH: KIRP_risk_high, riskL: KIRP_risk_low, nH: 143, nL: 143, p: "p = 0.026"});
survPanel({fx: 42, fy: 722, fw: 140, fh: 78, xdom: [-135, 6170], tx: 38, tty: 699, lx: 47, ly: 711, lw: 130, px: 47, py: 782, nx: 43, ty: 822, th: 16, ylabX: 22},
  {title: "LGG CDK2 Survival", ticks: [0, 2000, 4000, 6000], high: LGG_high, low: LGG_low, censH: LGG_cens_high, censL: LGG_cens_low, medians: [1720, 4060], riskH: LGG_risk_high, riskL: LGG_risk_low, nH: 259, nL: 259, p: "p < 0.0001"});
survPanel({fx: 223, fy: 725, fw: 139, fh: 77, xdom: [-254, 4159], tx: 225, tty: 705, lx: 232, ly: 715, lw: 125, px: 232, py: 785, nx: 230, ty: 824, th: 15, ylabX: 213},
  {title: "LIHC CDK2 Survival", ticks: [0, 1000, 2000, 3000, 4000], high: LIHC_high, low: LIHC_low, censH: LIHC_cens_high, censL: LIHC_cens_low, medians: [1620, 1790], riskH: LIHC_risk_high, riskL: LIHC_risk_low, nH: 183, nL: 182, p: "p = 0.04"});
survPanel({fx: 412, fy: 727, fw: 139, fh: 75, xdom: [-116, 3116], tx: 410, tty: 707, lx: 420, ly: 717, lw: 124, px: 419, py: 785, nx: 412, ty: 823, th: 15, ylabX: 393},
  {title: "MESO CDK2 Survival", ticks: [0, 1000, 2000, 3000], high: MESO_high, low: MESO_low, censH: MESO_cens_high, censL: MESO_cens_low, medians: [420, 772], riskH: MESO_risk_high, riskL: MESO_risk_low, nH: 43, nL: 42, p: "p = 0.00071"});
survPanel({fx: 597, fy: 725, fw: 138, fh: 77, xdom: [-172, 3218], tx: 599, tty: 705, lx: 606, ly: 715, lw: 120, px: 606, py: 783, nx: 600, ty: 823, th: 15, ylabX: 581},
  {title: "PAAD CDK2 Survival", ticks: [0, 1000, 2000, 3000], high: PAAD_high, low: PAAD_low, censH: PAAD_cens_high, censL: PAAD_cens_low, medians: [609, 713], riskH: PAAD_risk_high, riskL: PAAD_risk_low, nH: 89, nL: 89, p: "p = 0.021"});
survPanel({fx: 42, fy: 893, fw: 140, fh: 79, xdom: [-250, 5250], tx: 38, tty: 871, lx: 47, ly: 883, lw: 130, px: 47, py: 955, nx: 43, ty: 993, th: 19, ylabX: 22},
  {title: "PRAD CDK2 Survival", ticks: T6, high: PRAD_high, low: PRAD_low, censH: PRAD_cens_high, censL: PRAD_cens_low, medians: [], riskH: PRAD_risk_high, riskL: PRAD_risk_low, nH: 246, nL: 246, p: "p = 0.045"});
survPanel({fx: 223, fy: 893, fw: 138, fh: 80, xdom: [-220, 4120], tx: 222, tty: 873, lx: 227, ly: 885, lw: 129, px: 234, py: 957, nx: 230, ty: 993, th: 20, ylabX: 205},
  {title: "READ CDK2 Survival", ticks: [0, 1000, 2000, 3000, 4000], high: READ_high, low: READ_low, censH: READ_cens_high, censL: READ_cens_low, medians: [1560], riskH: READ_risk_high, riskL: READ_risk_low, nH: 46, nL: 46, p: "p = 0.018"});
survPanel({fx: 412, fy: 893, fw: 139, fh: 79, xdom: [-250, 5250], tx: 410, tty: 873, lx: 420, ly: 883, lw: 125, px: 419, py: 955, nx: 412, ty: 993, th: 19, ylabX: 393},
  {title: "THYM CDK2 Survival", ticks: T6, high: THYM_high, low: THYM_low, censH: THYM_cens_high, censL: THYM_cens_low, medians: [], riskH: THYM_risk_high, riskL: THYM_risk_low, nH: 59, nL: 59, p: "p = 0.046"});
survPanel({fx: 589, fy: 891, fw: 145, fh: 81, xdom: [-312, 2708], tx: 590, tty: 872, lx: 607, ly: 881, lw: 127, px: 607, py: 955, nx: 590, ty: 993, th: 19, ylabX: 580},
  {title: "UVM CDK2 Survival", ticks: [0, 500, 1000, 1500, 2000, 2500], high: UVM_high, low: UVM_low, censH: UVM_cens_high, censL: UVM_cens_low, medians: [1324], riskH: UVM_risk_high, riskL: UVM_risk_low, nH: 40, nL: 39, p: "p = 0.0033"});

// ---------------- panel letters ----------------
[["A",4,14],["B",185,7],["C",369,13],["D",554,11],
 ["E",4,173],["F",185,173],["G",369,172],["H",554,172],
 ["I",4,343],["J",185,343],["K",366,343],["L",556,343],
 ["M",4,513],["N",186,513],["O",366,513],["P",556,513],
 ["Q",4,683],["R",185,683],["S",369,683],["T",552,683],
 ["U",4,857],["V",186,860],["W",369,860],["X",556,860]].forEach(([s,x,y]) => letter(s, x, y));
</script></body></html>
